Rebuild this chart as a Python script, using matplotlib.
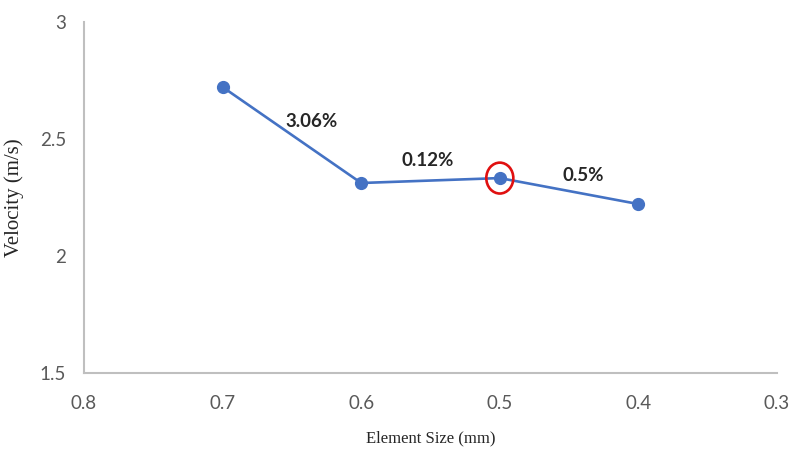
import matplotlib
matplotlib.use('Agg')
import matplotlib.pyplot as plt
from matplotlib.patches import Ellipse

# Data
element_size = [0.7, 0.6, 0.5, 0.4]
velocity = [2.722, 2.312, 2.333, 2.222]
pct_labels = ['3.06%', '0.12%', '0.5%']
pct_x = [0.636, 0.552, 0.440]
pct_y = [2.573, 2.410, 2.346]
highlight_idx = 2

x_ticks = [0.8, 0.7, 0.6, 0.5, 0.4, 0.3]
y_ticks = [1.5, 2, 2.5, 3]

fig = plt.figure(figsize=(7.94, 4.5), dpi=100)
ax = fig.add_axes([0.1058, 0.1711, 0.8728, 0.78])

ax.plot(element_size, velocity, color='#4472C4', linewidth=1.9,
        marker='o', markersize=8.5, zorder=3)

# red highlight ring around the chosen mesh size
ax.add_patch(Ellipse((element_size[highlight_idx], velocity[highlight_idx]),
                     width=0.0195, height=0.132, fill=False,
                     edgecolor='#E01010', linewidth=1.9, zorder=4))

for txt, tx, ty in zip(pct_labels, pct_x, pct_y):
    ax.text(tx, ty, txt, ha='center', va='center', fontsize=13.5,
            fontweight='bold', family='Lato', color='#262626')

ax.set_xlim(0.8, 0.3)
ax.set_ylim(1.5, 3)
ax.set_xticks(x_ticks)
ax.set_yticks(y_ticks)
ax.set_xticklabels([f'{v:g}' for v in x_ticks], family='Lato',
                   fontsize=13.5, color='#595959')
ax.set_yticklabels([f'{v:g}' for v in y_ticks], family='Lato',
                   fontsize=13.5, color='#595959')
ax.tick_params(axis='both', length=0)
ax.tick_params(axis='x', pad=16)
ax.tick_params(axis='y', pad=13)

for s in ['top', 'right']:
    ax.spines[s].set_visible(False)
for s in ['left', 'bottom']:
    ax.spines[s].set_color('#bfbfbf')
    ax.spines[s].set_linewidth(1.5)

ax.set_xlabel('Element Size (mm)', family='Liberation Serif', fontsize=12,
              color='#262626', labelpad=13)
ax.set_ylabel('Velocity (m/s)', family='Liberation Serif', fontsize=15,
              color='#262626', labelpad=11)

fig.savefig('out.png', dpi=100, facecolor='white')
